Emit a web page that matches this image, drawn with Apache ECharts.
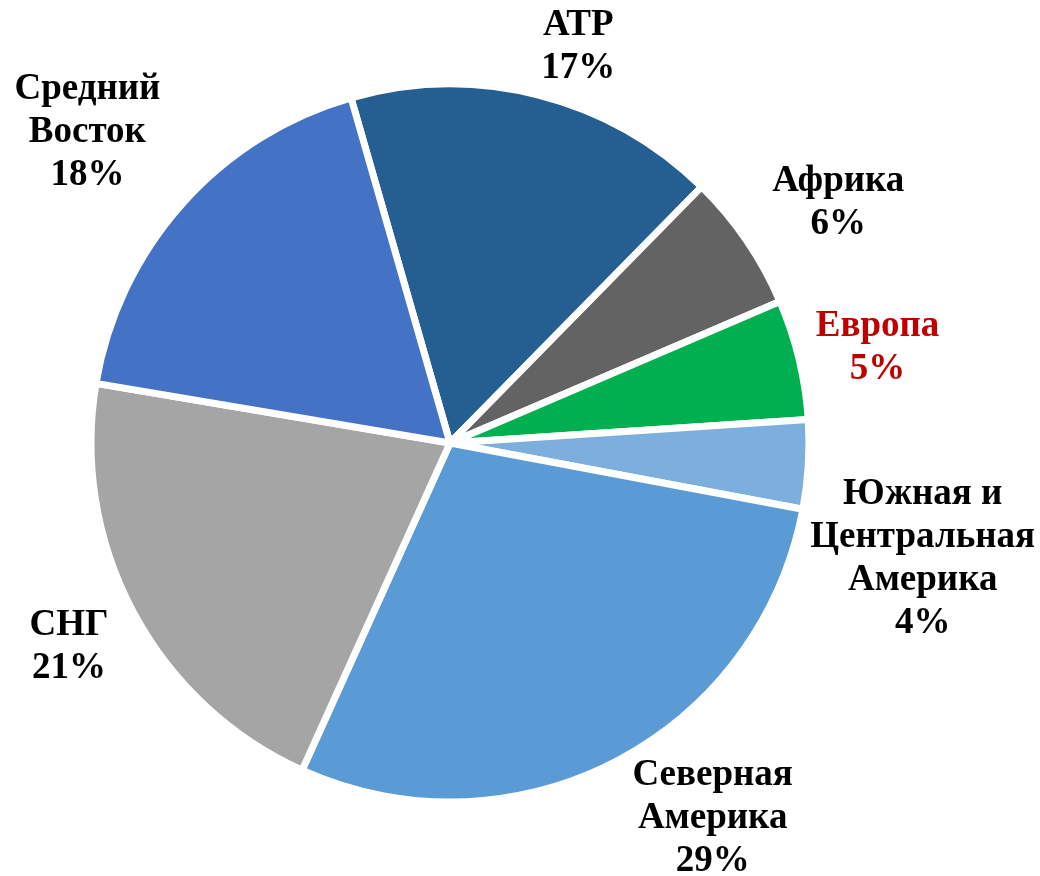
<!DOCTYPE html>
<html>
<head>
<meta charset="utf-8">
<script src="https://cdn.jsdelivr.net/npm/echarts@6/dist/echarts.min.js"></script>
<style>
  html, body { margin: 0; padding: 0; background: #fff; }
  #chart { width: 1040px; height: 876px; }
</style>
</head>
<body>
<div id="chart"></div>
<script>
// регионы и доли (%), по часовой стрелке начиная с АТР
const regions = ['АТР', 'Африка', 'Европа', 'Южная и\nЦентральная\nАмерика', 'Северная\nАмерика', 'СНГ', 'Средний\nВосток'];
const shares = [16.8, 6.2, 5.4, 4.0, 28.8, 20.9, 17.9];
const colors = ['#255E91', '#636363', '#00B050', '#7CAFDD', '#5B9BD5', '#A5A5A5', '#4472C4'];
const labelColors = ['#000', '#000', '#C00000', '#000', '#000', '#000', '#000'];

// вертикальная привязка подписи: -1 над точкой, 0 по центру, 1 под точкой
const labelSide = [-1, -1, 0, 1, 1, 1, -1];
// небольшие сдвиги подписей
const labelNudge = [[-5, 7], [11, 12], [0, -9], [-15, 8], [6, -18], [-9, -14], [-8, 1]];

const chart = echarts.init(document.getElementById('chart'));

const option = {
    backgroundColor: '#fff',
    animation: false,
    series: [{
        type: 'pie',
        center: [450, 443],
        radius: 359,
        startAngle: 106,
        clockwise: true,
        percentPrecision: 0,
        avoidLabelOverlap: false,
        itemStyle: {
            borderColor: '#fff',
            borderWidth: 7
        },
        label: {
            show: true,
            position: 'outside',
            formatter: '{b}\n{d}%',
            fontFamily: 'Liberation Serif',
            fontWeight: 'bold',
            fontSize: 37,
            lineHeight: 43
        },
        labelLine: { show: false, length: 12, length2: 0 },
        labelLayout: function (p) {
            const r = p.labelRect;
            const i = p.dataIndex;
            return {
                x: r.x + r.width / 2 + labelNudge[i][0],
                y: r.y + r.height / 2 + labelSide[i] * r.height / 2 + labelNudge[i][1],
                align: 'center',
                verticalAlign: 'middle'
            };
        },
        emphasis: { disabled: true },
        data: regions.map((name, i) => ({
            name: name,
            value: shares[i],
            itemStyle: { color: colors[i] },
            label: { color: labelColors[i] }
        }))
    }]
};

chart.setOption(option);
</script>
</body>
</html>
